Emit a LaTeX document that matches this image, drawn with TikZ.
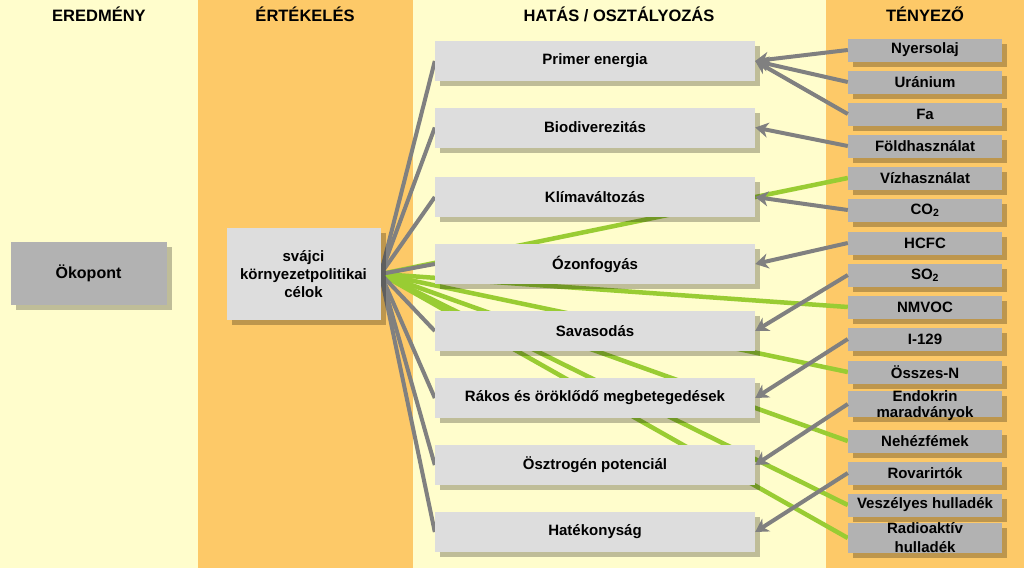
\documentclass[tikz,border=0pt]{standalone}
\usepackage{fontspec}
\setmainfont{Liberation Sans}
\usetikzlibrary{arrows.meta,shadows}
\definecolor{paleY}{HTML}{FFFDCC}
\definecolor{orangeBg}{HTML}{FDC968}
\definecolor{lightBox}{HTML}{DDDDDD}
\definecolor{darkBox}{HTML}{B2B2B2}
\definecolor{lineGray}{HTML}{808080}
\definecolor{lineGreen}{HTML}{99CC33}
\pgfdeclarelayer{bg}
\pgfdeclarelayer{lines}
\pgfsetlayers{bg,lines,main}
\begin{document}
\begin{tikzpicture}[x=1pt,y=-1pt,
  hdr/.style={font=\fontsize{16.5}{18}\selectfont\bfseries, text=black, inner sep=0pt},
  boxbase/.style={draw=none, align=center, inner sep=0pt,
    font=\fontsize{15}{17}\selectfont\bfseries,
    general shadow={fill=black, opacity=0.25, shadow xshift=5pt, shadow yshift=-5pt}},
  impact/.style={boxbase, fill=lightBox, minimum width=320pt, minimum height=40pt},
  factor/.style={boxbase, fill=darkBox, minimum width=154pt, minimum height=23pt},
  grayline/.style={draw=lineGray, line width=4pt},
  grayarrow/.style={draw=lineGray, line width=4pt, -{Stealth[length=13pt,width=15pt,inset=4pt]}},
  greenline/.style={draw=lineGreen, line width=4.5pt}
]
\useasboundingbox (0,0) rectangle (1024,568);
\begin{pgfonlayer}{bg}
  \fill[paleY] (0,0) rectangle (1024,568);
  \fill[orangeBg] (198,0) rectangle (413,568);
  \fill[orangeBg] (826,0) rectangle (1024,568);
\end{pgfonlayer}

% headers
\node[hdr] (h1) at (99,14) {EREDMÉNY};
\node[hdr] (h2) at (305,14) {ÉRTÉKELÉS};
\node[hdr] (h3) at (619,14) {HATÁS / OSZTÁLYOZÁS};
\node[hdr] (h4) at (925,14) {TÉNYEZŐ};

% left boxes
\node[boxbase, fill=darkBox, minimum width=156pt, minimum height=63pt,
      font=\fontsize{16}{18}\selectfont\bfseries] (oko) at (88.5,273.5) {Ökopont};
\node[boxbase, fill=lightBox, minimum width=154pt, minimum height=92pt,
      font=\fontsize{15}{18}\selectfont\bfseries] (sv) at (303.5,274) {svájci\\környezetpolitikai\\célok};

% impact boxes
\node[impact] (pe) at (595,61) {Primer energia};
\node[impact] (bd) at (595,127.5) {Biodiverezitás};
\node[impact] (kl) at (595,197) {Klímaváltozás};
\node[impact] (oz) at (595,264) {Ózonfogyás};
\node[impact] (sa) at (595,331) {Savasodás};
\node[impact] (ra) at (595,398) {Rákos és öröklődő megbetegedések};
\node[impact] (os) at (595,465) {Ösztrogén potenciál};
\node[impact] (ha) at (595,532) {Hatékonyság};

% factor boxes
\node[factor] (f1) at (925,50) {Nyersolaj};
\node[factor] (f2) at (925,82) {Uránium};
\node[factor] (f3) at (925,114) {Fa};
\node[factor] (f4) at (925,146) {Földhasználat};
\node[factor] (f5) at (925,178) {Vízhasználat};
\node[factor] (f6) at (925,210) {CO\textsubscript{2}};
\node[factor] (f7) at (925,243) {HCFC};
\node[factor] (f8) at (925,275) {SO\textsubscript{2}};
\node[factor] (f9) at (925,307) {NMVOC};
\node[factor] (f10) at (925,339) {I-129};
\node[factor] (f11) at (925,372) {Összes-N};
\node[factor, font=\fontsize{15}{16}\selectfont\bfseries, text depth=0pt] (f12) at (925,404) {Endokrin\\maradványok};
\node[factor] (f13) at (925,441) {Nehézfémek};
\node[factor] (f14) at (925,473) {Rovarirtók};
\node[factor] (f15) at (925,505) {Veszélyes hulladék};
\node[factor, font=\fontsize{15}{19}\selectfont\bfseries] (f16) at (925,538) {Radioaktív\\hulladék};

% lines behind boxes
\begin{pgfonlayer}{lines}
  \draw[greenline] (sv.east) -- (f5.west);
  \draw[greenline] (sv.east) -- (f9.west);
  \draw[greenline] (sv.east) -- (f11.west);
  \draw[greenline] (sv.east) -- (f13.west);
  \draw[greenline] (sv.east) -- (f15.west);
  \draw[greenline] (sv.east) -- (f16.west);
  \foreach \n in {pe,bd,kl,oz,sa,ra,os,ha}
    \draw[grayline] (sv.east) -- (\n.west);
\end{pgfonlayer}

% factor -> impact arrows
\draw[grayarrow] (f1.west) -- (pe.east);
\draw[grayarrow] (f2.west) -- (pe.east);
\draw[grayarrow] (f3.west) -- (pe.east);
\draw[grayarrow] (f4.west) -- (bd.east);
\draw[grayarrow] (f6.west) -- (kl.east);
\draw[grayarrow] (f7.west) -- (oz.east);
\draw[grayarrow] (f8.west) -- (sa.east);
\draw[grayarrow] (f10.west) -- (ra.east);
\draw[grayarrow] (f12.west) -- (os.east);
\draw[grayarrow] (f14.west) -- (ha.east);
\end{tikzpicture}
\end{document}
